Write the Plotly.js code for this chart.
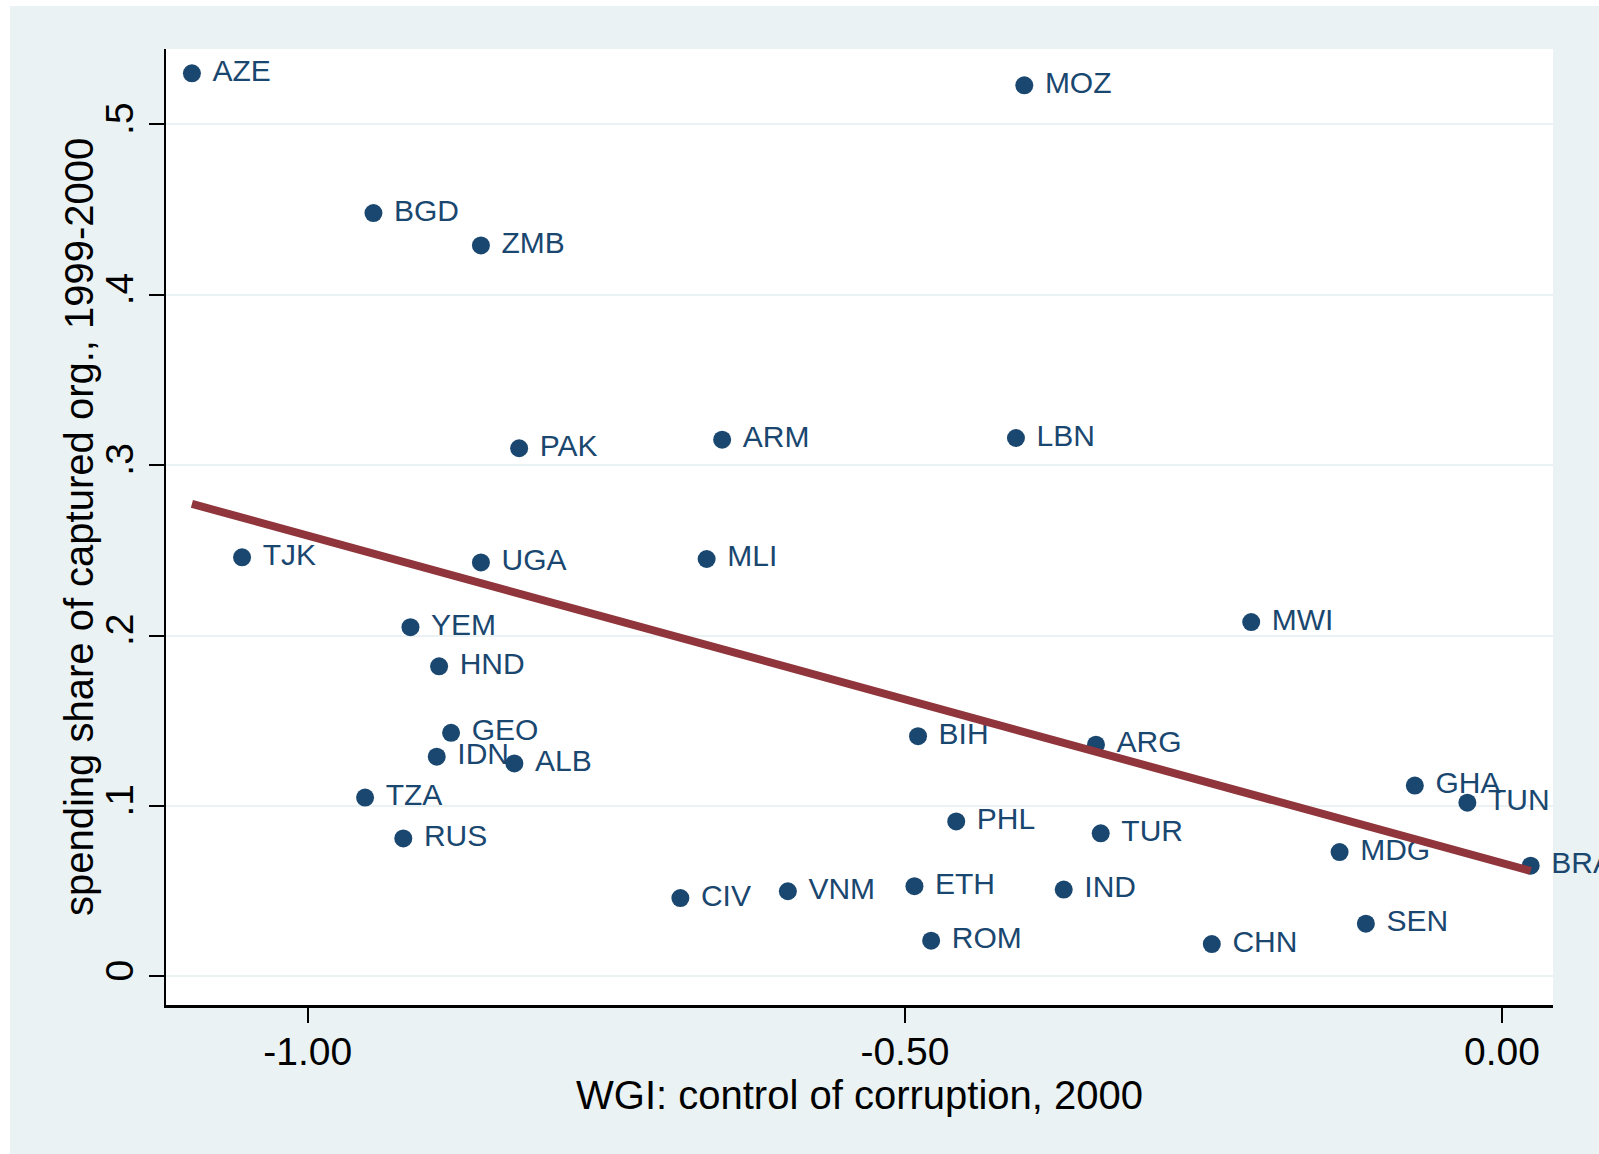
<!DOCTYPE html>
<html>
<head>
<meta charset="utf-8">
<script src="https://cdn.plot.ly/plotly-3.0.1.min.js"></script>
<style>html,body{margin:0;padding:0;background:#fff;}#chart{width:1599px;height:1154px;}</style>
</head>
<body>
<div id="chart"></div>
<script>
// Country codes
const countries = ["AZE","MOZ","BGD","ZMB","PAK","ARM","LBN","TJK","UGA","MLI","MWI","YEM","HND","GEO","IDN","ALB","BIH","ARG","TZA","RUS","PHL","TUR","GHA","TUN","MDG","BRA","CIV","VNM","ETH","IND","ROM","CHN","SEN"];
// WGI: control of corruption, 2000
const wgi = [-1.097,-0.400,-0.945,-0.855,-0.823,-0.653,-0.407,-1.055,-0.855,-0.666,-0.210,-0.914,-0.890,-0.880,-0.892,-0.827,-0.489,-0.340,-0.952,-0.920,-0.457,-0.336,-0.073,-0.029,-0.136,0.024,-0.688,-0.598,-0.492,-0.367,-0.478,-0.243,-0.114];
// spending share of captured org., 1999-2000
const share = [0.530,0.523,0.448,0.429,0.310,0.315,0.316,0.246,0.243,0.245,0.208,0.205,0.182,0.143,0.129,0.125,0.141,0.136,0.105,0.081,0.091,0.084,0.112,0.102,0.073,0.065,0.046,0.050,0.053,0.051,0.021,0.019,0.031];

const xTickVals = [-1, -0.5, 0];
const xTickText = ["-1.00", "-0.50", "0.00"];
const yTickVals = [0, 0.1, 0.2, 0.3, 0.4, 0.5];
const yTickText = ["0", ".1", ".2", ".3", ".4", ".5"];

// OLS linear fit
const n = wgi.length;
const mx = wgi.reduce((a,b)=>a+b,0)/n;
const my = share.reduce((a,b)=>a+b,0)/n;
let sxy = 0, sxx = 0;
for (let i=0;i<n;i++){ sxy += (wgi[i]-mx)*(share[i]-my); sxx += (wgi[i]-mx)*(wgi[i]-mx); }
const slope = sxy/sxx, icpt = my - slope*mx;
const xmin = Math.min(...wgi), xmax = Math.max(...wgi);
const fitX = [xmin, xmax];
const fitY = fitX.map(v => icpt + slope*v);

const navy = "#1a476f";
const traces = [
  {
    x: wgi, y: share, text: countries, type: "scatter", mode: "markers+text",
    texttemplate: "\u00a0%{text}",
    textposition: "middle right", cliponaxis: false,
    marker: {color: navy, size: 18, symbol: "circle"},
    textfont: {family: "Liberation Sans, Arial, sans-serif", size: 30, color: navy},
    hoverinfo: "skip", showlegend: false
  },
  {
    x: fitX, y: fitY, type: "scatter", mode: "lines", cliponaxis: false,
    line: {color: "#90353b", width: 8},
    hoverinfo: "skip", showlegend: false
  }
];

const layout = {
  width: 1599, height: 1154,
  margin: {l: 166, r: 46, t: 49, b: 149},
  paper_bgcolor: "#eaf2f3",
  plot_bgcolor: "#ffffff",
  font: {family: "Liberation Sans, Arial, sans-serif", color: "#000"},
  showlegend: false,
  xaxis: {
    range: [-1.1187, 0.0427],
    tickvals: xTickVals, ticktext: xTickText,
    tickfont: {size: 39, color: "#000"},
    ticks: "outside", ticklen: 15, tickwidth: 2, tickcolor: "#000",
    ticklabelstandoff: -4,
    showline: true, linecolor: "#000", linewidth: 2.5,
    showgrid: false, zeroline: false,
    title: {text: "WGI: control of corruption, 2000", font: {size: 40, color: "#000"}, standoff: 2}
  },
  yaxis: {
    range: [-0.01675, 0.5443],
    tickvals: yTickVals, ticktext: yTickText,
    tickangle: -90,
    tickfont: {size: 39, color: "#000"},
    ticks: "outside", ticklen: 15, tickwidth: 2, tickcolor: "#000",
    showline: true, linecolor: "#000", linewidth: 2.5,
    showgrid: true, gridcolor: "#eaf2f3", gridwidth: 2,
    zeroline: false
  },
  annotations: [
    {text: "spending share of captured org., 1999-2000", xref: "paper", yref: "paper",
     x: (79-166)/1387, y: 0.5, xanchor: "center", yanchor: "middle", textangle: -90,
     showarrow: false, font: {size: 40, color: "#000", family: "Liberation Sans, Arial, sans-serif"}}
  ],
  shapes: [
    {type: "rect", xref: "paper", yref: "paper", x0: -0.2, x1: (10-166)/1387, y0: -0.3, y1: 1.2, fillcolor: "#ffffff", line: {width: 0}, layer: "below"},
    {type: "rect", xref: "paper", yref: "paper", x0: -0.2, x1: 1.2, y0: (1005-6)/956, y1: 1.2, fillcolor: "#ffffff", line: {width: 0}, layer: "below"}
  ]
};

Plotly.newPlot("chart", traces, layout, {displayModeBar: false, staticPlot: true});
</script>
</body>
</html>
